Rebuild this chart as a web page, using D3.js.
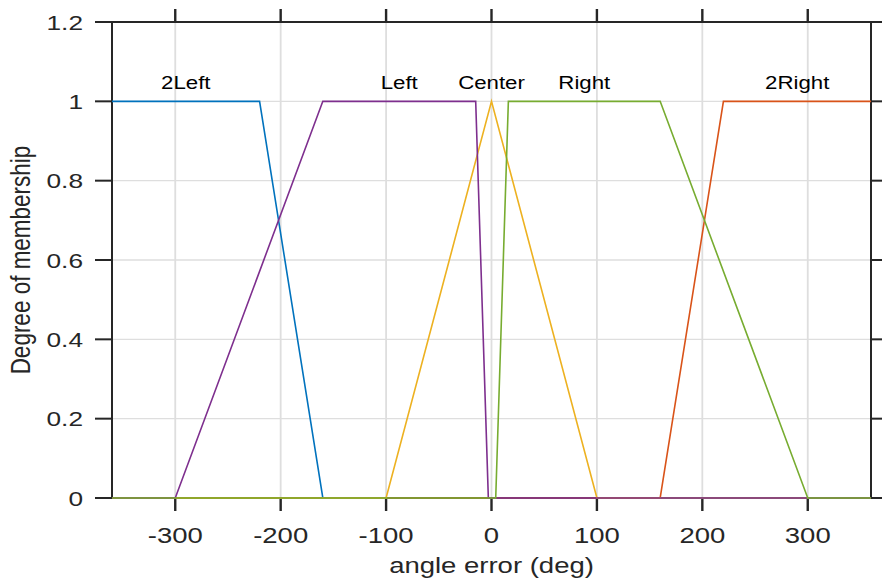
<!DOCTYPE html>
<html>
<head>
<meta charset="utf-8">
<script src="https://cdn.jsdelivr.net/npm/d3@7"></script>
<style>
  body { margin: 0; background: #fff; }
  svg { display: block; font-family: "Liberation Sans", Arial, sans-serif; }
</style>
</head>
<body>
<svg id="chart" width="882" height="583"></svg>
<script>
// membership functions, drawn in this order (MATLAB colour order)
var mfNames = ["2Left", "2Right", "Center", "Left", "Right"];
var mfColors = ["#0072BD", "#D95319", "#EDB120", "#7E2F8E", "#77AC30"];
var twoLeftX = [-360, -220, -160, 360], twoLeftY = [1, 1, 0, 0];
var twoRightX = [-360, 160, 220, 360], twoRightY = [0, 0, 1, 1];
var centerX = [-360, -100, 0, 100, 360], centerY = [0, 0, 1, 0, 0];
var leftX = [-360, -300, -160, -15, -3, 360], leftY = [0, 0, 1, 1, 0, 0];
var rightX = [-360, 4, 16, 160, 300, 360], rightY = [0, 0, 1, 1, 0, 0];

var xTicks = [-300, -200, -100, 0, 100, 200, 300];
var yTicks = [0, 0.2, 0.4, 0.6, 0.8, 1, 1.2];
var yTickLabels = ["0", "0.2", "0.4", "0.6", "0.8", "1", "1.2"];

var mfs = [
  {x: twoLeftX, y: twoLeftY},
  {x: twoRightX, y: twoRightY},
  {x: centerX, y: centerY},
  {x: leftX, y: leftY},
  {x: rightX, y: rightY}
];

var sx = 1.25; // horizontal text stretch seen in the picture
var pLeft = 112, pRight = 871, pTop = 22, pBottom = 498;

var svg = d3.select("#chart");
var x = d3.scaleLinear().domain([-360, 360]).range([pLeft, pRight]);
var y = d3.scaleLinear().domain([0, 1.2]).range([pBottom, pTop]);

// grid
svg.append("g").selectAll("line").data(xTicks).enter().append("line")
  .attr("x1", function(d) { return x(d); }).attr("x2", function(d) { return x(d); })
  .attr("y1", pTop).attr("y2", pBottom)
  .attr("stroke", "#dedede").attr("stroke-width", 1.8);
svg.append("g").selectAll("line").data(yTicks).enter().append("line")
  .attr("x1", pLeft).attr("x2", pRight)
  .attr("y1", function(d) { return y(d); }).attr("y2", function(d) { return y(d); })
  .attr("stroke", "#dedede").attr("stroke-width", 1.3);

// box and outward ticks on all sides
var axisColor = "#262626";
var box = svg.append("g").attr("stroke", axisColor).attr("fill", "none");
box.append("rect").attr("x", pLeft).attr("y", pTop)
  .attr("width", pRight - pLeft).attr("height", pBottom - pTop).attr("stroke-width", 2);
box.selectAll(".xb").data(xTicks).enter().append("line")
  .attr("x1", function(d) { return x(d); }).attr("x2", function(d) { return x(d); })
  .attr("y1", pBottom).attr("y2", pBottom + 13).attr("stroke-width", 2.4);
box.selectAll(".xt").data(xTicks).enter().append("line")
  .attr("x1", function(d) { return x(d); }).attr("x2", function(d) { return x(d); })
  .attr("y1", pTop).attr("y2", pTop - 13).attr("stroke-width", 2.4);
box.selectAll(".yl").data(yTicks).enter().append("line")
  .attr("x1", pLeft - 17).attr("x2", pLeft)
  .attr("y1", function(d) { return y(d); }).attr("y2", function(d) { return y(d); })
  .attr("stroke-width", 2);
box.selectAll(".yr").data(yTicks).enter().append("line")
  .attr("x1", pRight).attr("x2", pRight + 17)
  .attr("y1", function(d) { return y(d); }).attr("y2", function(d) { return y(d); })
  .attr("stroke-width", 2);

// membership lines
var line = d3.line()
  .x(function(d) { return x(d[0]); })
  .y(function(d) { return y(d[1]); });
svg.append("g").selectAll("path").data(mfs).enter().append("path")
  .attr("d", function(d) { return line(d3.zip(d.x, d.y)); })
  .attr("fill", "none")
  .attr("stroke", function(d, i) { return mfColors[i]; })
  .attr("stroke-width", 1.6);

// mf labels, centred on each plateau
svg.append("g").selectAll("text").data(mfs).enter().append("text")
  .attr("transform", function(d) {
    var top1 = d.x.filter(function(v, j) { return d.y[j] === 1; });
    var cx = x(d3.mean(top1));
    return "translate(" + cx + "," + (y(1) - 12.5) + ") scale(" + sx + ",1)";
  })
  .attr("text-anchor", "middle")
  .attr("font-size", 17.8)
  .attr("fill", "#000")
  .text(function(d, i) { return mfNames[i]; });

// tick labels
svg.append("g").selectAll("text").data(xTicks).enter().append("text")
  .attr("transform", function(d) { return "translate(" + x(d) + ",543) scale(" + sx + ",1)"; })
  .attr("text-anchor", "middle")
  .attr("font-size", 22)
  .attr("fill", axisColor)
  .text(function(d) { return d; });
svg.append("g").selectAll("text").data(yTicks).enter().append("text")
  .attr("transform", function(d) { return "translate(83," + (y(d) + 7.5) + ") scale(" + sx + ",1)"; })
  .attr("text-anchor", "end")
  .attr("font-size", 21)
  .attr("fill", axisColor)
  .text(function(d, i) { return yTickLabels[i]; });

// axis titles
svg.append("text")
  .attr("transform", "translate(" + x(0) + ",573) scale(" + sx + ",1)")
  .attr("text-anchor", "middle")
  .attr("font-size", 22)
  .attr("fill", axisColor)
  .text("angle error (deg)");
svg.append("text")
  .attr("transform", "translate(30," + ((pTop + pBottom) / 2) + ") scale(" + sx + ",1) rotate(-90)")
  .attr("text-anchor", "middle")
  .attr("font-size", 22.5)
  .attr("fill", axisColor)
  .text("Degree of membership");
</script>
</body>
</html>
